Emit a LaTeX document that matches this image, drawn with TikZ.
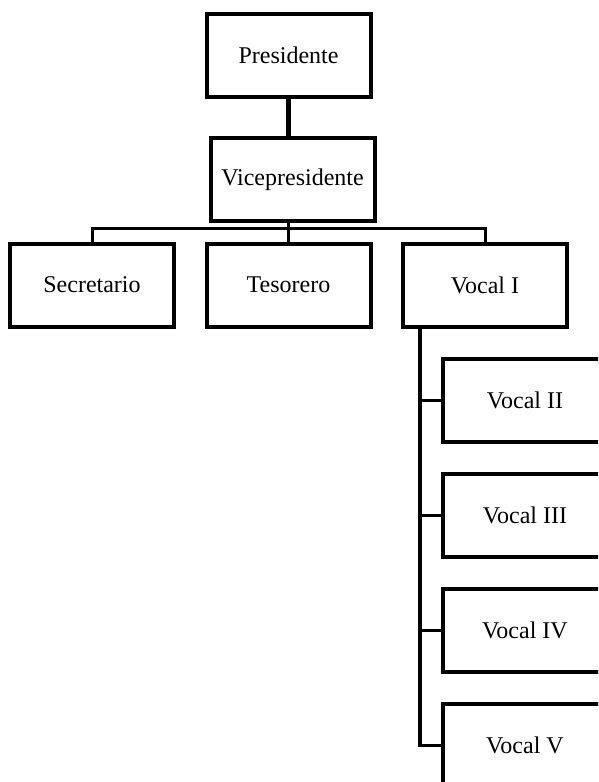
\documentclass[tikz,border=0pt]{standalone}
\usepackage{fontspec}
\setmainfont{Liberation Serif}
\begin{document}
\begin{tikzpicture}[x=1pt,y=-1pt,
  box/.style={draw=black,line width=4pt,rectangle,minimum width=164pt,minimum height=83pt,inner sep=0pt,font=\fontsize{24}{28}\selectfont,text=black},
  thick conn/.style={draw=black,line width=4.5pt},
  thin conn/.style={draw=black,line width=3pt}]
\useasboundingbox (0,0) rectangle (598,782);
\clip (0,0) rectangle (598,782);
\node[box] (pres) at (288.5,55.5) {Presidente};
\node[box] (vice) at (292.5,179.5) {Vicepresidente};
\node[box] (sec) at (92,285) {Secretario};
\node[box] (tes) at (288.5,285) {Tesorero};
\node[box] (voc1) at (485,285) {Vocal I};
\node[box] (voc2) at (525,400.5) {Vocal II};
\node[box] (voc3) at (525,515.5) {Vocal III};
\node[box] (voc4) at (525,630) {Vocal IV};
\node[box] (voc5) at (525,745.5) {Vocal V};
\coordinate (b) at (288.5,228);
\coordinate (v) at (420,0);
\draw[thick conn] (pres.south) -- (pres.south |- vice.north);
\draw[thin conn] (b |- vice.south) -- (b);
\draw[thin conn] (sec.north) |- (b) -| (voc1.north);
\draw[thin conn] (b) -- (tes.north);
\draw[thick conn] (v |- voc1.south) -- ([yshift=1pt]v |- voc5.west);
\draw[thin conn] (v |- voc2.west) -- (voc2.west);
\draw[thin conn] (v |- voc3.west) -- (voc3.west);
\draw[thin conn] (v |- voc4.west) -- (voc4.west);
\draw[thin conn] ([xshift=-2.25pt]v |- voc5.west) -- (voc5.west);
\end{tikzpicture}
\end{document}
